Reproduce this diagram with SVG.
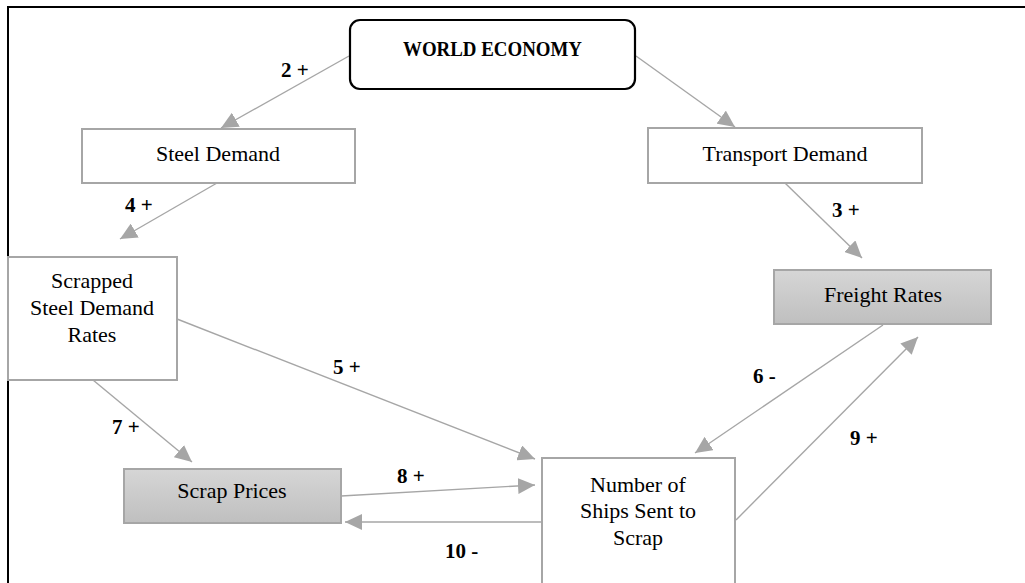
<svg xmlns="http://www.w3.org/2000/svg" width="1025" height="583" viewBox="0 0 1025 583">
<style>
.box{fill:#fff;stroke:#a6a6a6;stroke-width:2}
.shade{fill:url(#g);stroke:#a6a6a6;stroke-width:2}
.t{font-family:"Liberation Serif",serif;font-size:22px;fill:#000;text-anchor:middle}
.lb{font-family:"Liberation Serif",serif;font-size:21px;font-weight:bold;fill:#000}
.c{stroke:#a6a6a6;stroke-width:1.4;fill:none;marker-end:url(#a)}
</style>
<defs>
<linearGradient id="g" x1="0" y1="0" x2="0" y2="1">
<stop offset="0" stop-color="#d6d6d6"/>
<stop offset="1" stop-color="#bfbfbf"/>
</linearGradient>
<marker id="a" markerUnits="userSpaceOnUse" markerWidth="18" markerHeight="16" refX="17" refY="8" orient="auto" viewBox="0 0 18 16">
<path d="M0,0 L17,8 L0,16 z" fill="#a6a6a6"/>
</marker>
</defs>
<rect width="1025" height="583" fill="#fff"/>
<g id="frame">
<line x1="8" y1="7" x2="1025" y2="7" stroke="#000" stroke-width="2"/>
<line x1="8" y1="6" x2="8" y2="583" stroke="#000" stroke-width="2"/>
</g>
<g id="connectors">
<line class="c" x1="636" y1="56" x2="735" y2="127"/>
<line class="c" x1="349" y1="56" x2="221" y2="128"/>
<line class="c" x1="785" y1="183" x2="862" y2="258"/>
<line class="c" x1="217" y1="183" x2="120" y2="239"/>
<line class="c" x1="177" y1="319" x2="535" y2="459"/>
<line class="c" x1="883" y1="325" x2="695" y2="453"/>
<line class="c" x1="93" y1="380" x2="192" y2="462"/>
<line class="c" x1="341" y1="496" x2="535" y2="485"/>
<line class="c" x1="736" y1="520" x2="918" y2="337"/>
<line class="c" x1="542" y1="522" x2="345" y2="522"/>
</g>
<g id="labels">
<text class="lb" x="492" y="80">1 +</text>
<text class="lb" x="281" y="77">2 +</text>
<text class="lb" x="832" y="217">3 +</text>
<text class="lb" x="125" y="212">4 +</text>
<text class="lb" x="333" y="374">5 +</text>
<text class="lb" x="753" y="383">6 -</text>
<text class="lb" x="112" y="434">7 +</text>
<text class="lb" x="397" y="483">8 +</text>
<text class="lb" x="850" y="445">9 +</text>
<text class="lb" x="445" y="558">10 -</text>
</g>
<g id="world-economy">
<rect x="350" y="20" width="285" height="69" rx="10" fill="#fff" stroke="#000" stroke-width="2.2"/>
<text x="492.5" y="56" font-family="Liberation Serif, serif" font-size="21" font-weight="bold" text-anchor="middle" textLength="179" lengthAdjust="spacingAndGlyphs">WORLD ECONOMY</text>
</g>
<g id="steel-demand">
<rect class="box" x="82" y="129" width="273" height="54"/>
<text class="t" x="218" y="161">Steel Demand</text>
</g>
<g id="transport-demand">
<rect class="box" x="648" y="128" width="274" height="55"/>
<text class="t" x="785" y="161">Transport Demand</text>
</g>
<g id="freight-rates">
<rect class="shade" x="774" y="270" width="217" height="54"/>
<text class="t" x="883" y="302">Freight Rates</text>
</g>
<g id="scrapped-steel-demand-rates">
<rect class="box" x="8" y="257" width="169" height="123"/>
<text class="t" x="92" y="288">Scrapped</text>
<text class="t" x="92" y="315">Steel Demand</text>
<text class="t" x="92" y="342">Rates</text>
</g>
<g id="scrap-prices">
<rect class="shade" x="124" y="469" width="217" height="54"/>
<text class="t" x="232" y="498">Scrap Prices</text>
</g>
<g id="number-of-ships">
<rect class="box" x="542" y="458" width="193" height="140"/>
<text class="t" x="638" y="492">Number of</text>
<text class="t" x="638" y="518">Ships Sent to</text>
<text class="t" x="638" y="545">Scrap</text>
</g>
</svg>
